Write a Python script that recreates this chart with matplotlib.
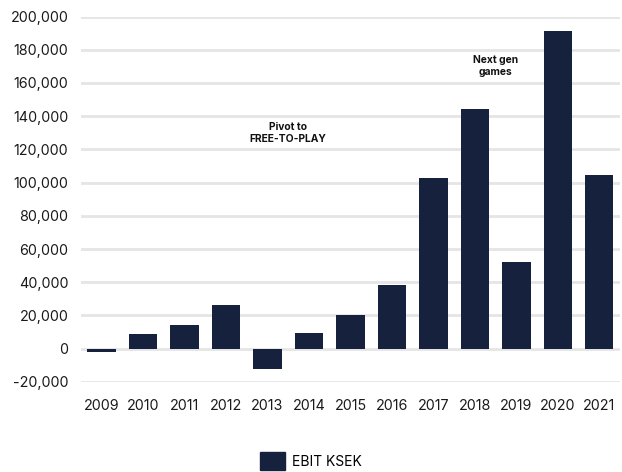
import matplotlib
matplotlib.use("Agg")
import matplotlib.pyplot as plt
from matplotlib.patches import Patch
from matplotlib.ticker import FuncFormatter

# EBIT in KSEK per year
years = ["2009", "2010", "2011", "2012", "2013", "2014", "2015",
         "2016", "2017", "2018", "2019", "2020", "2021"]
ebit = [-1800, 9000, 14500, 26500, -12000, 9700, 20500,
        38500, 103000, 144600, 52400, 191500, 104800]

yticks = list(range(-20000, 200001, 20000))

notes = ["Pivot to\nFREE-TO-PLAY", "Next gen\ngames"]
note_x = [4.5, 9.5]
note_y = [130000, 170000]

navy = "#16223d"
plt.rcParams["font.family"] = ["Inter", "DejaVu Sans"]

fig = plt.figure(figsize=(6.22, 4.72), dpi=100)
ax = fig.add_axes([0.130, 0.191, 0.867, 0.774])

x = range(len(years))
ax.bar(x, ebit, width=0.68, color=navy, zorder=3)

ax.set_xlim(-0.5, len(years) - 0.5)
ax.set_ylim(-20000, 200000)
ax.set_yticks(yticks)
ax.yaxis.set_major_formatter(FuncFormatter(lambda v, p: f"{int(v):,}"))
ax.set_xticks(list(x))
ax.set_xticklabels(years)

ax.grid(axis="y", color="#e5e5e5", linewidth=2, zorder=0)
ax.tick_params(length=0, labelsize=10.3, colors="#1a1a1a")
ax.tick_params(axis="y", pad=9)
ax.tick_params(axis="x", pad=12)
for s in ax.spines.values():
    s.set_visible(False)

for t, nx, ny in zip(notes, note_x, note_y):
    ax.text(nx, ny, t, ha="center", va="center", fontsize=7.4,
            fontweight="bold", color="#111111", linespacing=1.25)

fig.legend(handles=[Patch(color=navy, label="EBIT KSEK")],
           loc="center", bbox_to_anchor=(0.5, 0.023), frameon=False,
           fontsize=10, handlelength=1.8, handleheight=1.65,
           handletextpad=0.5)

fig.savefig("out.png", dpi=100)
